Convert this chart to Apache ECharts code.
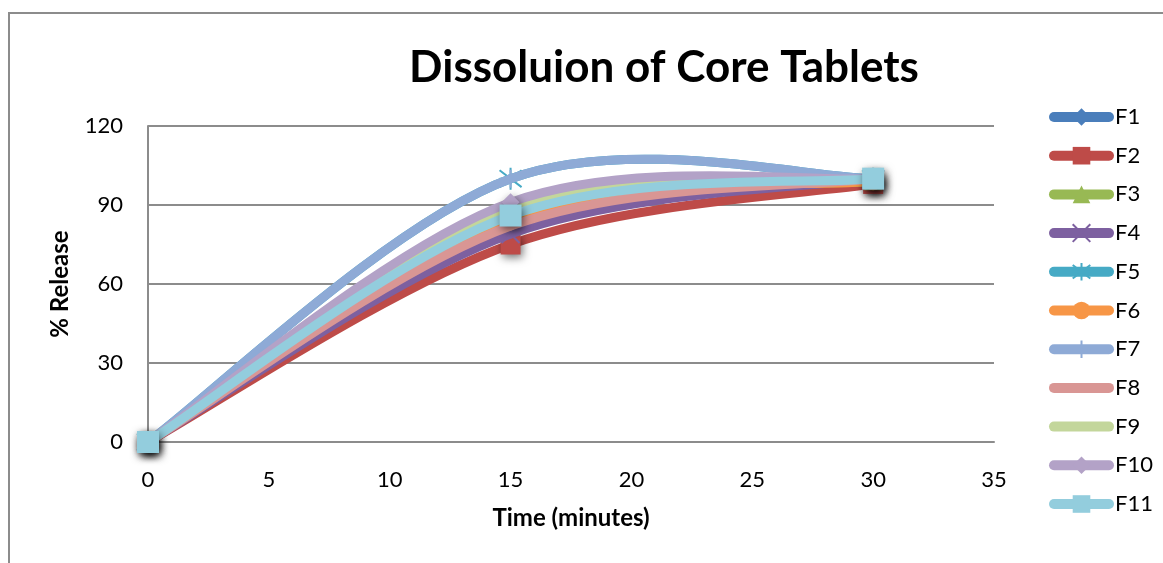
<!DOCTYPE html>
<html>
<head>
<meta charset="utf-8">
<script src="https://cdn.jsdelivr.net/npm/echarts@6/dist/echarts.min.js"></script>
<style>
  html, body { margin: 0; padding: 0; background: #fff; }
  #chart { width: 1163px; height: 563px; }
</style>
</head>
<body>
<div id="chart"></div>
<script>
// Sampling times (minutes) and cumulative % release for each formulation
const times = [0, 15, 30];
const F1 = [0, 84, 99];
const F2 = [0, 75, 98];
const F3 = [0, 86, 99];
const F4 = [0, 79, 100];
const F5 = [0, 100, 100];
const F6 = [0, 85, 99];
const F7 = [0, 100, 100];
const F8 = [0, 82, 100];
const F9 = [0, 88, 100];
const F10 = [0, 91, 100];
const F11 = [0, 86, 100];

const seriesNames = ['F1', 'F2', 'F3', 'F4', 'F5', 'F6', 'F7', 'F8', 'F9', 'F10', 'F11'];
const seriesValues = [F1, F2, F3, F4, F5, F6, F7, F8, F9, F10, F11];
const xTicks = [0, 5, 10, 15, 20, 25, 30, 35];
const yTicks = [0, 30, 60, 90, 120];

const colors = ['#4a7ebb', '#be4b48', '#98b954', '#7d60a0', '#46aac5', '#f79646',
                '#8eaad6', '#d99694', '#c3d69b', '#b3a2c7', '#93cddd'];
// marker shapes: diamond, square, triangle, x, star, circle, plus, none, none, diamond, square
const symbols = ['diamond', 'rect', 'triangle',
  'path://M-1,-1L1,1M1,-1L-1,1',
  'path://M-1,-1L1,1M1,-1L-1,1M0,-1.3L0,1.3M-1,0L1,0',
  'circle',
  'path://M-1,0L1,0M0,-1L0,1',
  'none', 'none', 'diamond', 'rect'];
const strokeSymbols = [false, false, false, true, true, false, true, false, false, false, false];
const symbolSizes = [18, 20, 18, 18, 22, 18, 18, 0, 0, 18, 22];

const font = 'Lato, "Open Sans", sans-serif';
const LINE_W = 9;

const chart = echarts.init(document.getElementById('chart'));

// Smoothed curve segment (Catmull-Rom style Bezier, tension 1/6) between
// data item i and i+1, positioned through the chart's own coordinate system.
function curveRenderer(color) {
  return function (params, api) {
    const i = params.dataIndexInside;
    const n = params.dataInsideLength;
    if (i >= n - 1) return null;
    const pt = (k) => {
      const kk = Math.max(0, Math.min(n - 1, k));
      return api.coord([api.value(0, kk), api.value(1, kk)]);
    };
    const p0 = pt(i - 1), p1 = pt(i), p2 = pt(i + 1), p3 = pt(i + 2);
    return {
      type: 'bezierCurve',
      shape: {
        x1: p1[0], y1: p1[1],
        x2: p2[0], y2: p2[1],
        cpx1: p1[0] + (p2[0] - p0[0]) / 6,
        cpy1: p1[1] + (p2[1] - p0[1]) / 6,
        cpx2: p2[0] - (p3[0] - p1[0]) / 6,
        cpy2: p2[1] - (p3[1] - p1[1]) / 6
      },
      style: { fill: null, stroke: color, lineWidth: LINE_W, lineCap: 'round' },
      silent: true
    };
  };
}

const series = [];
seriesNames.forEach((name, i) => {
  const data = times.map((t, j) => [t, seriesValues[i][j]]);
  // smoothed curve
  series.push({
    name: name + ' curve',
    type: 'custom',
    renderItem: curveRenderer(colors[i]),
    data: data,
    encode: { x: 0, y: 1 },
    clip: false,
    silent: true,
    animation: false,
    z: 2 + i * 2
  });
  // markers and legend entry
  series.push({
    name: name,
    type: 'line',
    data: data,
    symbol: symbols[i],
    symbolSize: symbolSizes[i],
    showSymbol: symbols[i] !== 'none',
    color: colors[i],
    lineStyle: { width: 0, opacity: 0, color: colors[i] },
    itemStyle: strokeSymbols[i]
      ? { color: 'rgba(0,0,0,0)', borderColor: colors[i], borderWidth: 2 }
      : { color: colors[i], borderColor: colors[i], borderWidth: 0,
          shadowBlur: 8, shadowColor: 'rgba(0,0,0,0.55)', shadowOffsetX: 2, shadowOffsetY: 3 },
    emphasis: { disabled: true },
    animation: false,
    z: 3 + i * 2
  });
});

const legendData = seriesNames.map((name, i) =>
  symbols[i] === 'none' ? { name: name, itemStyle: { opacity: 0 } } : { name: name });

chart.setOption({
  animation: false,
  backgroundColor: '#ffffff',
  graphic: [{
    type: 'rect',
    shape: { x: 9, y: 13, width: 1200, height: 600 },
    style: { fill: 'none', stroke: '#8c8c8c', lineWidth: 2 },
    silent: true,
    z: -1
  }],
  title: {
    text: 'Dissoluion of Core Tablets',
    left: 659,
    top: 41,
    textAlign: 'center',
    textStyle: { fontFamily: font, fontWeight: 'bold', fontSize: 44, color: '#000' }
  },
  legend: {
    orient: 'vertical',
    left: 1044,
    top: 101,
    itemWidth: 55,
    itemHeight: 22,
    itemGap: 16.7,
    textStyle: { fontFamily: font, fontSize: 22, color: '#000', padding: [0, 0, 0, 1] },
    lineStyle: { width: LINE_W + 1, opacity: 1, cap: 'round' },
    itemStyle: { shadowBlur: 0, shadowOffsetX: 0, shadowOffsetY: 0 },
    data: legendData
  },
  grid: { left: 148, right: 169, top: 126, bottom: 121, containLabel: false },
  xAxis: {
    type: 'value',
    min: xTicks[0],
    max: xTicks[xTicks.length - 1],
    interval: 5,
    name: 'Time (minutes)',
    nameLocation: 'middle',
    nameGap: 64,
    nameTextStyle: { fontFamily: font, fontWeight: 'bold', fontSize: 24, color: '#000' },
    axisLine: { show: true, lineStyle: { color: '#8c8c8c', width: 2 } },
    axisTick: { show: false },
    splitLine: { show: false },
    axisLabel: { fontFamily: font, fontSize: 22, color: '#000', margin: 27 }
  },
  yAxis: {
    type: 'value',
    min: yTicks[0],
    max: yTicks[yTicks.length - 1],
    interval: 30,
    name: '% Release',
    nameLocation: 'middle',
    nameGap: 76,
    nameTextStyle: { fontFamily: font, fontWeight: 'bold', fontSize: 24, color: '#000' },
    axisLine: { show: true, lineStyle: { color: '#8c8c8c', width: 2 } },
    axisTick: { show: false },
    splitLine: { show: true, lineStyle: { color: '#8c8c8c', width: 2 } },
    axisLabel: { fontFamily: font, fontSize: 22, color: '#000', margin: 25 }
  },
  series: series
});
</script>
</body>
</html>
